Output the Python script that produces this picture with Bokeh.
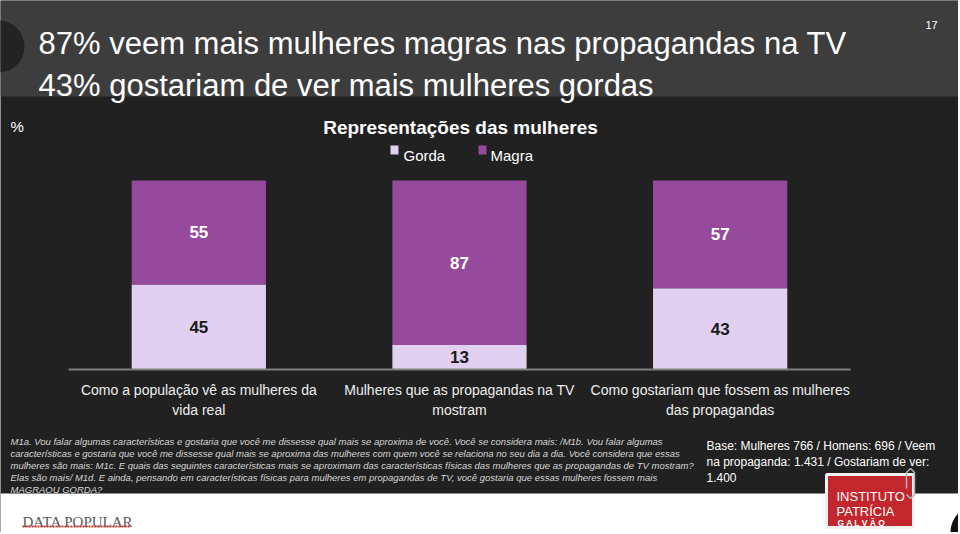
from bokeh.plotting import figure
from bokeh.models import ColumnDataSource, Range1d
from bokeh.core.properties import value
from bokeh.embed import file_html
from bokeh.resources import INLINE

# ---------------- data ----------------
categories = [
    "Como a população vê as mulheres da\nvida real",
    "Mulheres que as propagandas na TV\nmostram",
    "Como gostariam que fossem as mulheres\ndas propagandas",
]
gorda = [45, 13, 43]
magra = [55, 87, 57]
series_names = ["Gorda", "Magra"]

title_lines = [
    "87% veem mais mulheres magras nas propagandas na TV",
    "43% gostariam de ver mais mulheres gordas",
]
chart_title = "Representações das mulheres"
footnote_lines = [
    "M1a. Vou falar algumas características e gostaria que você me dissesse qual mais se aproxima de você. Você se considera mais: /M1b. Vou falar algumas",
    "características e gostaria que você me dissesse qual mais se aproxima das mulheres com quem você se relaciona no seu dia a dia. Você considera que essas",
    "mulheres são mais:  M1c. E quais das seguintes características mais se aproximam das características físicas das mulheres que as propagandas de TV mostram?",
    "Elas são mais/ M1d. E ainda, pensando em características físicas para mulheres em propagandas de TV, você gostaria que essas mulheres fossem mais",
    "MAGRAOU GORDA?",
]
base_lines = [
    "Base: Mulheres 766 / Homens: 696 / Veem",
    "na propaganda: 1.431 / Gostariam de ver:",
    "1.400",
]

# ---------------- layout / style ----------------
W, H = 958, 532
FONT = "Liberation Sans"
GORDA_C = "#e2d0f1"
MAGRA_C = "#954a9c"
HEADER_C = "#3d3d3d"
BODY_C = "#212121"

# chart plot area inside the canvas (pixels)
CH_L, CH_R, CH_TOP, CH_BOT = 68, 850, 180, 369
n = len(categories)
px_per_cat = (CH_R - CH_L) / n
x0 = -0.5 - CH_L / px_per_cat
x1 = x0 + W / px_per_cat
px_per_pct = (CH_BOT - CH_TOP) / 100.0
y_lo = 0 - (H - CH_BOT) / px_per_pct
y_hi = 100 + CH_TOP / px_per_pct

p = figure(
    width=W, height=H,
    x_range=Range1d(0, W), y_range=Range1d(H, 0),
    output_backend="svg", toolbar_location=None,
    x_axis_location=None, y_axis_location=None,
    min_border=0, background_fill_color=BODY_C, border_fill_color=BODY_C,
    outline_line_color=None,
)
p.extra_x_ranges = {"cat": Range1d(x0, x1)}
p.extra_y_ranges = {"pct": Range1d(y_lo, y_hi)}
p.xgrid.visible = False
p.ygrid.visible = False


def box(l, t, r, b, color, line_color=None, line_width=0):
    p.quad(left=[l], right=[r], top=[t], bottom=[b], fill_color=color,
           line_color=line_color, line_width=line_width)


def label(x, y, text, size, color="#ffffff", style="normal", align="left", font=FONT,
          baseline="alphabetic"):
    p.text(x=[x], y=[y], text=[text], text_color=color, text_font=value(font),
           text_font_size=size, text_font_style=style, text_align=align,
           text_baseline=baseline)


# bands
box(0, 0, W, 96, HEADER_C)
box(0, 493, W, H, "#ffffff")
p.circle(x=[-2], y=[46], radius=26, fill_color="#232323", line_color=None)
p.circle(x=[978], y=[532], radius=28, fill_color="#111111", line_color=None)

# ---------------- bars ----------------
xi = list(range(n))
src = ColumnDataSource(dict(x=xi, Gorda=gorda, Magra=magra))
p.vbar_stack(series_names, x="x", width=0.515, color=[GORDA_C, MAGRA_C],
             line_color=None, source=src, x_range_name="cat", y_range_name="pct")

lab_y = [g / 2 for g in gorda] + [g + m / 2 for g, m in zip(gorda, magra)]
lab_t = [str(g) for g in gorda] + [str(m) for m in magra]
lab_c = ["#1a1a1a"] * len(gorda) + ["#ffffff"] * len(magra)
lsrc = ColumnDataSource(dict(x=xi + xi, y=lab_y, t=lab_t, c=lab_c))
p.text(x="x", y="y", text="t", text_color="c", source=lsrc,
       text_font=value(FONT), text_font_style="bold", text_font_size="17px",
       text_align="center", text_baseline="middle",
       x_range_name="cat", y_range_name="pct")

# category axis: baseline + labels
p.segment(x0=[-0.5], x1=[n - 0.5], y0=[0], y1=[0], line_color="#7f7f7f", line_width=2,
          x_range_name="cat", y_range_name="pct")
csrc = ColumnDataSource(dict(x=xi, y=[381] * n, t=categories))
p.text(x="x", y="y", text="t", source=csrc, text_color="#eeeeee",
       text_font=value(FONT), text_font_size="14px", text_align="center",
       text_baseline="top", text_line_height=1.3, x_range_name="cat")

# ---------------- header ----------------
label(38, 43, title_lines[0], "31px")
label(38, 85, title_lines[1], "31px")
label(925, 24, "17", "11px")

# chart title + legend
label(10, 126, "%", "15px")
label(460, 127, chart_title, "19px", style="bold", align="center")
box(390, 145, 398, 154, GORDA_C)
label(403, 155, series_names[0], "15px")
box(478, 145, 486, 154, MAGRA_C)
label(490, 155, series_names[1], "15px")

# footnotes
for i, t in enumerate(footnote_lines):
    label(10, 441 + i * 12, t, "9.5px", color="#d6d6d6", style="italic")
for i, t in enumerate(base_lines):
    label(706, 445 + i * 16, t, "12px", color="#ffffff")

# footer logos
label(22, 521, "DATA POPULAR", "15px", color="#5a5a5a", font="Liberation Serif")
p.segment(x0=[22], x1=[130], y0=[526], y1=[526], line_color="#c0392b", line_width=2,
          line_dash="2 1")
box(826, 474, 913, 527, "#c1272d", line_color="#f2f2f2", line_width=3)
p.line(x=[906, 910, 914, 914, 910, 906, 906], y=[494, 498, 494, 472, 468, 472, 488],
       line_color="#b5b5b5", line_width=1.5)
label(836, 496, "INSTITUTO", "13px")
label(836, 511, "PATRÍCIA", "13px")
label(837, 522, "G  A  L  V  Ã  O", "8.5px", style="bold")

open("out.html", "w").write(file_html(p, INLINE))
